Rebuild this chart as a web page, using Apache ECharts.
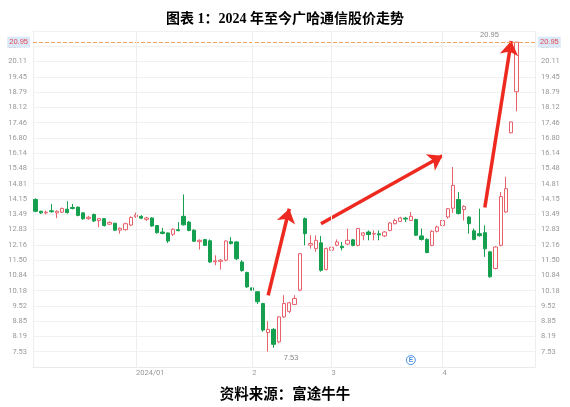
<!DOCTYPE html>
<html>
<head>
<meta charset="utf-8">
<script src="https://cdn.jsdelivr.net/npm/echarts@6/dist/echarts.min.js"></script>
<style>
html,body{margin:0;padding:0;background:#fff;}
#chart{width:570px;height:407px;}
</style>
</head>
<body>
<div id="chart"></div>
<script>
// ---- data ----
const dates = [
 '2023-12-05','2023-12-06','2023-12-07','2023-12-08','2023-12-11','2023-12-12','2023-12-13','2023-12-14','2023-12-15',
 '2023-12-18','2023-12-19','2023-12-20','2023-12-21','2023-12-22','2023-12-25','2023-12-26','2023-12-27','2023-12-28','2023-12-29',
 '2024-01-02','2024-01-03','2024-01-04','2024-01-05','2024-01-08','2024-01-09','2024-01-10','2024-01-11','2024-01-12',
 '2024-01-15','2024-01-16','2024-01-17','2024-01-18','2024-01-19','2024-01-22','2024-01-23','2024-01-24','2024-01-25','2024-01-26',
 '2024-01-29','2024-01-30','2024-01-31',
 '2024-02-01','2024-02-02','2024-02-05','2024-02-06','2024-02-07','2024-02-08','2024-02-19','2024-02-20','2024-02-21','2024-02-22',
 '2024-02-23','2024-02-26','2024-02-27','2024-02-28','2024-02-29',
 '2024-03-01','2024-03-04','2024-03-05','2024-03-06','2024-03-07','2024-03-08','2024-03-11','2024-03-12','2024-03-13','2024-03-14',
 '2024-03-15','2024-03-18','2024-03-19','2024-03-20','2024-03-21','2024-03-22','2024-03-25','2024-03-26','2024-03-27','2024-03-28','2024-03-29',
 '2024-04-01','2024-04-02','2024-04-03','2024-04-08','2024-04-09','2024-04-10','2024-04-11','2024-04-12','2024-04-15','2024-04-16',
 '2024-04-17','2024-04-18','2024-04-19','2024-04-22','2024-04-23'
];
const padCategories = ['pad1','pad2','pad3'];

const opens  = [14.13,13.62,13.55,13.64,13.55,13.58,13.71,13.78,13.80,13.55,13.30,13.48,13.22,13.30,13.06,13.10,12.80,12.82,13.02,
 13.38,13.40,13.27,13.33,13.00,12.72,12.68,12.62,12.82,13.40,13.15,12.80,12.30,12.39,12.34,11.43,11.45,11.50,12.30,12.29,11.42,10.96,
 10.30,10.13,9.62,8.36,8.50,7.96,9.04,9.28,9.58,10.20,13.30,12.15,12.00,12.25,11.10,
 11.93,12.15,12.10,12.20,12.38,12.14,12.58,12.72,12.63,12.64,12.55,12.79,13.08,13.18,13.32,13.22,13.26,12.55,12.40,12.14,12.75,
 13.00,13.37,13.75,14.13,13.69,13.37,12.77,12.65,12.69,11.86,11.14,12.14,13.59,17.02,18.80];
const closes = [13.62,13.55,13.58,13.60,13.62,13.74,13.56,13.74,13.44,13.29,13.36,13.20,13.30,13.00,13.14,12.80,12.88,13.08,13.35,
 13.46,13.32,13.33,12.98,12.69,12.66,12.33,12.84,12.78,13.03,12.79,12.32,12.36,12.14,11.42,11.47,11.50,12.33,12.22,11.56,11.05,10.34,
 10.20,9.70,8.47,8.50,7.85,9.04,9.62,9.65,9.84,11.78,12.65,12.22,12.36,11.06,12.00,
 12.06,12.29,12.04,12.36,12.14,12.87,12.68,12.61,12.66,12.60,12.72,13.11,13.22,13.33,13.28,13.40,12.58,12.40,11.83,12.75,12.94,
 13.22,13.73,14.74,13.52,13.83,13.08,12.40,12.56,11.99,10.78,12.07,14.26,14.60,17.49,20.95];
const lows   = [13.58,13.50,13.48,13.56,13.32,13.55,13.52,13.70,13.40,13.25,13.25,13.15,12.93,12.96,13.02,12.76,12.65,12.78,12.98,
 13.33,13.28,13.20,12.95,12.65,12.62,12.25,12.55,12.75,13.00,12.75,12.30,11.96,12.12,11.38,11.28,11.09,11.45,12.18,11.50,11.00,10.30,
 10.05,9.60,8.40,7.53,7.70,7.90,9.00,9.20,9.55,10.15,12.14,12.00,11.86,11.00,11.05,
 11.90,12.10,11.92,12.15,12.10,12.10,12.36,12.36,12.36,12.36,12.50,12.75,13.05,13.15,13.15,13.20,12.55,12.35,11.80,12.10,12.70,
 12.95,13.30,13.55,13.48,13.22,12.65,12.36,12.52,11.64,10.74,11.10,12.10,13.55,17.00,17.95];
const highs  = [14.18,13.64,13.65,13.93,13.66,13.78,14.05,13.94,13.82,13.56,13.42,13.52,13.33,13.32,13.18,13.12,12.92,13.12,13.40,
 13.56,13.45,13.38,13.36,13.02,12.89,12.70,12.88,13.15,14.35,13.20,12.84,12.40,12.42,12.40,11.71,11.55,12.36,12.50,12.32,11.50,11.00,
 10.48,10.15,9.65,8.85,8.55,9.06,9.98,9.70,9.98,11.80,13.35,12.58,12.58,12.55,12.05,
 12.10,12.40,12.29,12.87,12.42,12.90,12.72,12.79,12.79,12.79,12.76,13.15,13.30,13.38,13.38,13.59,13.30,12.87,12.45,12.80,13.00,
 13.25,13.76,15.54,14.45,13.88,13.40,12.87,13.73,13.01,11.90,12.10,14.45,15.11,17.52,20.95];

// month-start tick labels
const monthTicks = ['2024-01-02','2024-02-01','2024-03-01','2024-04-01'];
const monthLabels = ['2024/01','2','3','4'];

// y axis ticks: first labelled tick and step
const yFirstTick = 7.53;
const yStep = 0.66211;
const yTickCount = 22;

// annotations
const maxPrice = 20.95;
const eventDate = '2024-03-22';
// arrows: [fromDate, fromValue, toDate, toValue]
const arrows = [
  ['2024-02-06', 9.97, '2024-02-20', 13.73],
  ['2024-02-28', 13.08, '2024-04-01', 16.03],
  ['2024-04-15', 13.78, '2024-04-22', 21.0]
];

// ---- chart ----
const candleData = dates.map((d, i) => [opens[i], closes[i], lows[i], highs[i]]);
const categories = dates.concat(padCategories);
const labelMap = {};
monthTicks.forEach((d, i) => labelMap[d] = monthLabels[i]);

const yMin = yFirstTick - yStep;
const yMax = yMin + yStep * yTickCount;

const up = '#e8626c', down = '#15a04f';
const axisLabelStyle = {color: '#999', fontSize: 7.5, fontFamily: 'Roboto, sans-serif'};

const chart = echarts.init(document.getElementById('chart'), null, {renderer: 'canvas'});
chart.setOption({
  animation: false,
  backgroundColor: '#fff',
  title: [{
    text: '图表 1：2024 年至今广哈通信股价走势',
    left: 'center', top: 7,
    textStyle: {fontSize: 14, fontWeight: 'bold', color: '#000', fontFamily: '"Liberation Serif", "Noto Sans CJK SC", serif'}
  }, {
    text: '资料来源：富途牛牛',
    left: 'center', top: 383,
    textStyle: {fontSize: 14.5, fontWeight: 'bold', color: '#000', fontFamily: '"Liberation Serif", "Noto Sans CJK SC", serif'}
  }],
  grid: {left: 33, right: 35, top: 31, bottom: 40},
  xAxis: {
    type: 'category',
    data: categories,
    boundaryGap: true,
    axisLine: {show: true, lineStyle: {color: '#eaeaea'}},
    axisTick: {show: false},
    splitLine: {show: false},
    axisLabel: Object.assign({}, axisLabelStyle, {
      margin: 2, align: 'left',
      interval: (idx, val) => labelMap[val] !== undefined,
      formatter: v => labelMap[v] || ''
    })
  },
  yAxis: [{
    type: 'value', position: 'left', min: yMin, max: yMax, interval: yStep,
    axisLine: {show: true, lineStyle: {color: '#eeeeee'}},
    axisTick: {show: false},
    splitLine: {show: true, lineStyle: {color: '#f1f1f1', width: 1}},
    axisLabel: Object.assign({}, axisLabelStyle, {margin: 6, showMinLabel: false, showMaxLabel: false,
      formatter: v => v.toFixed(2)})
  }, {
    type: 'value', position: 'right', min: yMin, max: yMax, interval: yStep,
    axisLine: {show: true, lineStyle: {color: '#eeeeee'}},
    axisTick: {show: false},
    splitLine: {show: false},
    axisLabel: Object.assign({}, axisLabelStyle, {margin: 6, showMinLabel: false, showMaxLabel: false,
      formatter: v => v.toFixed(2)})
  }],
  series: [{
    type: 'candlestick',
    data: candleData,
    barWidth: '72%',
    itemStyle: {color: '#ffffff', color0: down, borderColor: up, borderColor0: down, borderWidth: 1},
    markLine: {
      silent: true, symbol: 'none', z: 10,
      lineStyle: {type: 'dashed', color: '#f3a35c', width: 1},
      data: [
        {yAxis: maxPrice, label: {show: true, position: 'start', distance: 3, formatter: () => maxPrice.toFixed(2),
          color: '#e0474f', fontSize: 7.5, backgroundColor: '#dbe8f8', padding: [2, 2, 1, 2]}},
        {yAxis: maxPrice, label: {show: true, position: 'end', distance: 3, formatter: () => maxPrice.toFixed(2),
          color: '#e0474f', fontSize: 7.5, backgroundColor: '#dbe8f8', padding: [2, 2, 1, 2]}}
      ].concat(monthTicks.map(d => ({
        xAxis: d, label: {show: false},
        lineStyle: {type: 'solid', color: '#eeeeee', width: 1}
      })))
    },
    markPoint: {
      silent: true,
      symbol: 'circle', symbolSize: 1,
      itemStyle: {color: 'rgba(0,0,0,0)'},
      data: [
        {type: 'max', valueDim: 'highest',
          label: {show: true, position: 'inside', offset: [-27, -7], color: '#888', fontSize: 7.5,
            formatter: p => Number(p.value).toFixed(2)}},
        {type: 'min', valueDim: 'lowest',
          label: {show: true, position: 'inside', offset: [23, 6], color: '#888', fontSize: 7.5,
            formatter: p => Number(p.value).toFixed(2)}},
        {coord: [eventDate, yMin + 0.3], symbol: 'circle', symbolSize: 9,
          itemStyle: {color: '#ffffff', borderColor: '#4a90e2', borderWidth: 1},
          label: {show: true, position: 'inside', formatter: 'E', color: '#4a90e2', fontSize: 6.5, fontWeight: 'bold'}}
      ]
    }
  }, {
    type: 'line',
    data: [],
    silent: true,
    markLine: {
      silent: true,
      symbol: ['none', 'arrow'],
      symbolSize: 14,
      lineStyle: {type: 'solid', color: '#ee2a20', width: 3.5},
      itemStyle: {color: '#ee2a20'},
      label: {show: false},
      data: arrows.map(a => [{coord: [a[0], a[1]]}, {coord: [a[2], a[3]], symbol: 'arrow', symbolSize: 14}])
    }
  }]
});
</script>
</body>
</html>
